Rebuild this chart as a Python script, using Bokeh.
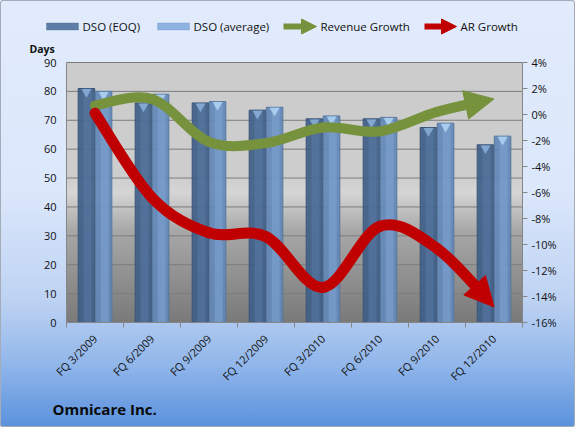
import numpy as np
from math import pi
from bokeh.plotting import figure
from bokeh.models import (Range1d, LinearAxis, FixedTicker, PrintfTickFormatter, Label,
                          Arrow, NormalHead, BoxAnnotation, ColumnDataSource, Title)
from bokeh.transform import dodge
from bokeh.embed import file_html
from bokeh.resources import INLINE

# ---------------- data ----------------
quarters = ["FQ 3/2009", "FQ 6/2009", "FQ 9/2009", "FQ 12/2009",
            "FQ 3/2010", "FQ 6/2010", "FQ 9/2010", "FQ 12/2010"]
dso_eoq = [81, 76, 76, 73.5, 70.5, 70.5, 67.5, 61.5]
dso_avg = [80, 79, 76.5, 74.5, 71.5, 71, 69, 64.5]
revenue_growth = [0.7, 1.2, -2.1, -2.2, -1.0, -1.3, 0.2, 1.2]
ar_growth = [0.1, -6.4, -9.1, -9.4, -13.3, -8.6, -10.3, -14.8]
days_ticks = list(range(0, 91, 10))
pct_ticks = list(range(-16, 5, 2))
days_lim = (0, 90)
pct_lim = (-16, 4)

FONT = "Open Sans"
GREEN = "#76923c"
RED = "#c00000"
W, H = 575, 427
# layout (pixels): frame and plot area
L, R, T, B = 26, 522, 4, 322          # frame edges
PA_L, PA_R, PA_T = 66, 522, 62        # plot-area edges
ncat = len(quarters)
ux = (PA_R - PA_L) / ncat
uy = (B - PA_T) / (days_lim[1] - days_lim[0])
up = (B - PA_T) / (pct_lim[1] - pct_lim[0])
x_start = -0.5 - (PA_L - L) / ux
x_end = ncat - 0.5 + (R - PA_R) / ux
y_top = days_lim[0] + (B - T) / uy
p_top = pct_lim[0] + (B - T) / up


def px2x(px):
    return -0.5 + (px - PA_L) / ux


def py2y(py):
    return (B - py) / uy


xs = list(range(ncat))

p = figure(width=W, height=H, output_backend="svg", toolbar_location=None,
           x_range=Range1d(x_start, x_end), y_range=Range1d(days_lim[0], y_top),
           min_border_left=L, min_border_right=W - R, min_border_top=T, min_border_bottom=H - B)
p.extra_y_ranges = {"pct": Range1d(pct_lim[0], p_top)}
p.border_fill_color = None
p.background_fill_color = None
p.outline_line_color = None
p.styles = {
    "background": "linear-gradient(180deg, #e1ebfc 0%, #dbe7fb 45%, #bed3f3 70%, #8fb5ea 86%, #5a91dc 100%)",
    "box-shadow": "inset 0 0 0 1px #a3acb8",
    "border-radius": "3px",
}

# plot-area gradient (grey, darker towards the bottom)
n = 260
t = np.linspace(0, 1, n)
g = np.interp(t, [0, 0.35, 0.5, 0.56, 1], [122, 168, 214, 206, 204]).astype(np.uint8)
img = np.zeros((n, 1), dtype=np.uint32)
v = img.view(dtype=np.uint8).reshape((n, 1, 4))
v[:, 0, 0] = g
v[:, 0, 1] = g
v[:, 0, 2] = g
v[:, 0, 3] = 255
p.image_rgba(image=[img], x=-0.5, y=days_lim[0], dw=ncat, dh=days_lim[1] - days_lim[0])

# grid lines restricted to the plot area
p.xgrid.visible = False
p.ygrid.visible = False
p.segment(x0=-0.5, x1=ncat - 0.5, y0=days_ticks, y1=days_ticks, line_color="#7c7c7c", line_width=1)

# axes
ax_col = "#868686"
# left tick labels (panel axis, labels pushed right to sit next to the plot area)
p.yaxis.bounds = days_lim
p.yaxis.ticker = FixedTicker(ticks=days_ticks)
p.yaxis.axis_line_color = None
p.yaxis.major_tick_line_color = None
p.yaxis.major_tick_out = 0
p.yaxis.major_tick_in = 0
p.yaxis.minor_tick_line_color = None
p.yaxis.major_label_standoff = -(PA_L - L - 10)
p.yaxis.major_label_text_font = FONT
p.yaxis.major_label_text_font_size = "11px"
p.yaxis.major_label_text_color = "#111111"
# left axis line at the plot-area edge
la = LinearAxis(fixed_location=-0.5, bounds=days_lim, ticker=FixedTicker(ticks=[]))
la.axis_line_color = ax_col
la.major_tick_line_color = None
la.minor_tick_line_color = None
p.add_layout(la, "left")

p.xaxis.bounds = (-0.5, ncat - 0.5)
p.xaxis.ticker = FixedTicker(ticks=xs, minor_ticks=[i - 0.5 for i in range(ncat + 1)])
p.xaxis.major_label_overrides = {i: q for i, q in enumerate(quarters)}
p.xaxis.major_tick_line_color = None
p.xaxis.minor_tick_line_color = ax_col
p.xaxis.minor_tick_out = 5
p.xaxis.minor_tick_in = 0
p.xaxis.axis_line_color = ax_col
p.xaxis.major_label_orientation = pi / 4
p.xaxis.major_label_standoff = 8
p.xaxis.major_label_text_font = FONT
p.xaxis.major_label_text_font_size = "11px"
p.xaxis.major_label_text_color = "#111111"

ra = LinearAxis(y_range_name="pct", ticker=FixedTicker(ticks=pct_ticks),
                formatter=PrintfTickFormatter(format="%d%%"), bounds=pct_lim)
ra.axis_line_color = ax_col
ra.major_tick_line_color = ax_col
ra.major_tick_out = 5
ra.major_tick_in = 0
ra.minor_tick_line_color = None
ra.major_label_standoff = 4
ra.major_label_text_font = FONT
ra.major_label_text_font_size = "11px"
ra.major_label_text_color = "#111111"
p.add_layout(ra, "right")

title = Title(text="Omnicare Inc.", align="left", offset=52 - L, text_font=FONT,
              text_font_size="15px", text_font_style="bold", text_color="#0a0a0a")
p.add_layout(title, "below")

# bars
src = ColumnDataSource(dict(x=xs, eoq=dso_eoq, avg=dso_avg))
bw = 0.29
p.vbar(x=dodge("x", -0.15, range=p.x_range), top="eoq", width=bw, source=src,
       fill_color="#3f5f88", fill_alpha=0.92, line_color="#3a5478", line_width=1)
p.vbar(x=dodge("x", -0.13, range=p.x_range), top="eoq", width=0.14, source=src,
       fill_color="#5a7aa6", fill_alpha=0.55, line_color=None)
p.vbar(x=dodge("x", 0.15, range=p.x_range), top="avg", width=bw, source=src,
       fill_color="#6288b8", fill_alpha=0.92, line_color="#56779f", line_width=1)
p.vbar(x=dodge("x", 0.17, range=p.x_range), top="avg", width=0.14, source=src,
       fill_color="#80a5d3", fill_alpha=0.55, line_color=None)
p.scatter(x=dodge("x", -0.15, range=p.x_range), y=dodge("eoq", -1.2, range=p.y_range),
          source=src, marker="inverted_triangle", size=10, fill_color="#8fb4de",
          line_color=None, fill_alpha=0.8)
p.scatter(x=dodge("x", 0.15, range=p.x_range), y=dodge("avg", -1.2, range=p.y_range),
          source=src, marker="inverted_triangle", size=10, fill_color="#b5d8f5",
          line_color=None, fill_alpha=0.8)


# smooth curves with arrow heads
def smooth_arrow(vals, color, width, head):
    P = list(zip(xs, vals))
    m = len(P)
    segs = []
    for i in range(m - 1):
        p0 = P[i - 1] if i > 0 else P[i]
        p1, p2 = P[i], P[i + 1]
        p3 = P[i + 2] if i + 2 < m else P[i + 1]
        c0 = (p1[0] + (p2[0] - p0[0]) / 6, p1[1] + (p2[1] - p0[1]) / 6)
        c1 = (p2[0] - (p3[0] - p1[0]) / 6, p2[1] - (p3[1] - p1[1]) / 6)
        segs.append([p1, c0, c1, p2])
    a, b, c, d = segs[-1]

    def Bz(tt):
        u = 1 - tt
        return (u**3 * a[0] + 3 * u * u * tt * b[0] + 3 * u * tt * tt * c[0] + tt**3 * d[0],
                u**3 * a[1] + 3 * u * u * tt * b[1] + 3 * u * tt * tt * c[1] + tt**3 * d[1])
    ts = np.linspace(0, 1, 400)
    ok = [tt for tt in ts if np.hypot((d[0] - Bz(tt)[0]) * ux, (d[1] - Bz(tt)[1]) * up) >= head * 0.6]
    ts_ = ok[-1]
    lerp = lambda q, r, s: (q[0] + (r[0] - q[0]) * s, q[1] + (r[1] - q[1]) * s)
    ab, bc = lerp(a, b, ts_), lerp(b, c, ts_)
    abc = lerp(ab, bc, ts_)
    cd = lerp(c, d, ts_)
    bcd = lerp(bc, cd, ts_)
    e = lerp(abc, bcd, ts_)
    segs[-1] = [a, ab, abc, e]
    p.bezier(x0=[s[0][0] for s in segs], y0=[s[0][1] for s in segs],
             cx0=[s[1][0] for s in segs], cy0=[s[1][1] for s in segs],
             cx1=[s[2][0] for s in segs], cy1=[s[2][1] for s in segs],
             x1=[s[3][0] for s in segs], y1=[s[3][1] for s in segs],
             line_color=color, line_width=width, line_cap="round", line_join="round",
             y_range_name="pct")
    back = Bz(max(ts_ - 0.05, 0))
    p.add_layout(Arrow(x_start=back[0], y_start=back[1], x_end=d[0], y_end=d[1],
                       y_range_name="pct", line_alpha=0, line_width=1,
                       end=NormalHead(size=head, fill_color=color, line_color=color)))


smooth_arrow(revenue_growth, GREEN, 10, 29)
smooth_arrow(ar_growth, RED, 11, 29)

# ---------------- legend and "Days" (inside the frame, above the plot area) ----------------
LY = 26
TXT = dict(text_font=FONT, text_font_size="11.5px", text_color="#111111", text_baseline="middle")


def swatch(l, r, fill, edge):
    p.add_layout(BoxAnnotation(left=px2x(l), right=px2x(r), bottom=py2y(LY + 3.5), top=py2y(LY - 3.5),
                               fill_color=fill, fill_alpha=1, line_color=edge, line_width=1))


swatch(46, 78, "#5d7da8", "#3f5d86")
p.add_layout(Label(x=px2x(82), y=py2y(LY), text="DSO (EOQ)", **TXT))
swatch(157, 189, "#8fb3e0", "#6a8fbf")
p.add_layout(Label(x=px2x(193), y=py2y(LY), text="DSO (average)", **TXT))
p.add_layout(Arrow(x_start=px2x(283), y_start=py2y(LY), x_end=px2x(316), y_end=py2y(LY),
                   line_color=GREEN, line_width=6,
                   end=NormalHead(size=15, fill_color=GREEN, line_color=GREEN)))
p.add_layout(Label(x=px2x(320), y=py2y(LY), text="Revenue Growth", **TXT))
p.add_layout(Arrow(x_start=px2x(424), y_start=py2y(LY), x_end=px2x(456), y_end=py2y(LY),
                   line_color=RED, line_width=6,
                   end=NormalHead(size=15, fill_color=RED, line_color=RED)))
p.add_layout(Label(x=px2x(460), y=py2y(LY), text="AR Growth", **TXT))

p.add_layout(Label(x=px2x(29), y=py2y(48), text="Days", text_font=FONT, text_font_size="10.5px",
                   text_font_style="bold", text_color="#111111", text_baseline="middle"))

open("out.html", "w").write(file_html(p, INLINE))
